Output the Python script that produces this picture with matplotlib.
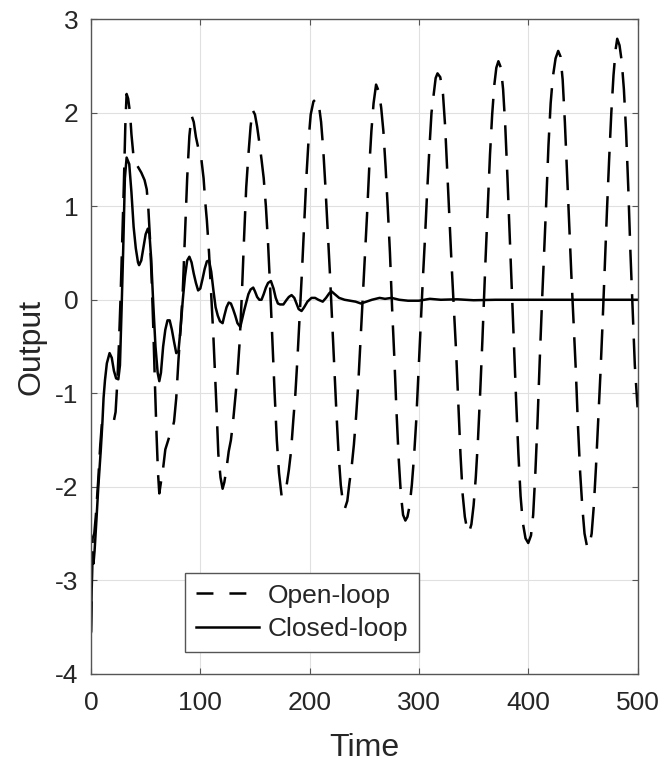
import matplotlib
matplotlib.use("Agg")
import matplotlib.pyplot as plt
from matplotlib.lines import Line2D

plt.rcParams['font.family'] = ['Liberation Sans', 'DejaVu Sans']
plt.rcParams['axes.unicode_minus'] = False
plt.rcParams['lines.scale_dashes'] = False

# ---------------- data ----------------
open_loop_points = [
    (0, -3.55), (1.5, -2.55), (3, -2.5), (4.5, -2.3), (6.5, -1.95), (8.5, -1.55), (10, -1.32),
    (14, -1.3), (18, -1.3), (21, -1.29), (22.5, -1.2), (24, -0.9), (25.5, -0.5), (27, 0.0),
    (28.5, 0.6), (30, 1.2), (31.5, 1.9), (32.6, 2.2), (34, 2.15), (35.7, 2.0), (37, 1.77),
    (39, 1.52), (41, 1.46), (43, 1.42), (46, 1.36), (49, 1.28), (51, 1.18), (52.5, 0.97),
    (54, 0.65), (55.5, 0.22), (57, -0.3), (58.5, -0.9), (60, -1.45), (61.3, -1.85), (62.5, -2.07),
    (64, -1.95), (66, -1.8), (68, -1.6), (72, -1.45), (74.5, -1.38), (76, -1.3), (78, -1.05),
    (80, -0.65), (82, -0.3), (84, 0.1), (86, 0.7), (88, 1.3), (90, 1.75), (92, 1.97),
    (94, 1.9), (96, 1.74), (98, 1.63), (101, 1.5), (103, 1.3), (104.5, 1.05), (106, 0.85),
    (108, 0.5), (110, 0.05), (112, -0.4), (113.5, -0.8), (115, -1.2), (116.5, -1.65),
    (118.5, -1.9), (120.4, -2.02), (122, -1.95), (124, -1.8), (126, -1.62), (128, -1.5),
    (130, -1.3), (132, -1.05), (134, -0.8), (136, -0.45), (138, 0.05), (140, 0.65), (142, 1.2),
    (144, 1.55), (146, 1.85), (147.8, 2.03),
    (150, 1.98), (152, 1.85), (154, 1.68), (156, 1.5), (158, 1.3), (160, 1.0), (162, 0.6),
    (164, 0.1), (166, -0.45), (168, -1.0), (170, -1.5), (172, -1.85), (174.4, -2.1),
    (176.5, -2.07), (179, -1.98), (181, -1.82), (183, -1.62), (185, -1.3), (187, -1.0),
    (189, -0.6), (191, -0.15), (193, 0.3), (195, 0.8), (197, 1.3), (199, 1.7), (201, 1.98),
    (203.5, 2.12), (206.3, 2.15),
    (208.5, 2.08), (210.5, 1.9), (212.5, 1.6), (214.5, 1.2), (216.5, 0.75), (218.5, 0.3),
    (220.5, -0.2), (222.5, -0.7), (224.5, -1.2), (226.5, -1.65), (228.5, -1.98), (230.5, -2.17),
    (232.3, -2.23),
    (234.5, -2.15), (236.5, -1.95), (238.5, -1.78), (240.5, -1.55), (242.5, -1.25),
    (244.5, -0.9), (246.5, -0.45), (248.5, 0.0), (250.5, 0.45), (252.5, 0.9), (254.5, 1.4),
    (256.5, 1.8), (258.5, 2.1), (260.8, 2.3),
    (263.5, 2.22), (265.5, 2.05), (267.5, 1.8), (269.5, 1.42), (271.5, 0.98), (273.5, 0.5),
    (275.5, -0.1), (277.5, -0.62), (279.5, -1.2), (281.5, -1.7), (283.5, -2.08), (285.5, -2.3),
    (287.6, -2.36),
    (289.5, -2.32), (291.5, -2.2), (293.5, -1.98), (295.5, -1.68), (297.5, -1.3), (299.5, -0.8),
    (301.5, -0.3), (303.5, 0.2), (305.5, 0.65), (307.5, 1.15), (309.5, 1.6), (311.5, 2.0),
    (313.5, 2.2), (315.3, 2.37), (317, 2.42),
    (319.5, 2.38), (322, 2.2), (324, 1.85), (326, 1.35), (328, 0.85), (330, 0.35), (332, -0.1),
    (334, -0.55), (336, -1.1), (338, -1.65), (340, -2.08), (342, -2.32), (344, -2.45),
    (345.8, -2.49),
    (348, -2.4), (350, -2.2), (352, -1.9), (354, -1.5), (356, -1.0), (358, -0.45), (359.5, 0.0),
    (361, 0.45), (363, 1.0), (365, 1.55), (367, 1.98), (369, 2.3), (370.8, 2.48), (372.7, 2.55),
    (375, 2.48), (377, 2.25), (379, 1.85), (381, 1.3), (383, 0.7), (385, 0.1), (387, -0.5),
    (389, -1.1), (391, -1.65), (393, -2.1), (395, -2.38), (397.5, -2.55), (400, -2.6),
    (402.5, -2.52), (404.5, -2.3), (406.5, -1.85), (408.5, -1.3), (410.5, -0.65),
    (412.5, -0.05), (414.5, 0.5), (416.5, 1.05), (418.5, 1.65), (420.5, 2.1), (422.5, 2.38),
    (425, 2.58), (427.4, 2.66),
    (429.5, 2.6), (431.5, 2.35), (433.5, 1.9), (435.5, 1.35), (437.5, 0.8), (439.5, 0.25),
    (441.5, -0.25), (443.5, -0.75), (445.5, -1.35), (447.5, -1.85), (449.5, -2.22),
    (451.5, -2.5), (454, -2.65),
    (456, -2.62), (458, -2.5), (460, -2.2), (462, -1.78), (464, -1.3), (466, -0.8),
    (468, -0.25), (470, 0.35), (472, 0.95), (474, 1.5), (476, 2.0), (478, 2.4), (480, 2.68),
    (481.4, 2.79),
    (483.5, 2.72), (485.5, 2.55), (487.5, 2.25), (489.5, 1.8), (491.5, 1.2), (493.5, 0.5),
    (495.5, -0.1), (497.5, -0.7), (500, -1.15),
]

closed_loop_points = [
    (0, -3.55), (1.2, -2.7), (2.3, -2.82), (3.3, -2.68), (5, -2.35), (6.7, -2.0), (9, -1.6),
    (10.5, -1.3), (11.5, -1.05), (12.8, -0.86), (14.5, -0.68), (17, -0.57), (19, -0.62),
    (21, -0.76), (23, -0.84), (25, -0.85), (26.5, -0.7), (28, -0.1), (29.5, 0.55), (31, 1.3),
    (32.6, 1.52), (35, 1.45), (37, 1.15), (39, 0.78), (41, 0.55), (43, 0.4), (44, 0.37),
    (46, 0.42), (48, 0.56), (50, 0.7), (52, 0.76), (53.5, 0.7), (55, 0.45), (57, -0.05),
    (59, -0.5), (61, -0.78), (62.5, -0.87), (64, -0.78), (66, -0.5), (68, -0.32), (70, -0.22),
    (72, -0.22), (74, -0.32), (76, -0.45), (78, -0.57), (80, -0.55), (82, -0.3), (84, 0.0),
    (86, 0.25), (88, 0.42), (90, 0.46), (92, 0.4), (94, 0.28), (96, 0.18), (98, 0.1),
    (100, 0.12), (102, 0.22), (104, 0.33), (106, 0.41), (108, 0.42), (110, 0.3), (112, 0.1),
    (114, -0.08), (116, -0.17), (118, -0.23), (120.4, -0.25), (122, -0.17), (124, -0.08),
    (126, -0.03), (128, -0.04), (130, -0.1), (132, -0.17), (134, -0.25), (136.6, -0.29),
    (138, -0.22), (140, -0.12), (142, -0.03), (144, 0.06), (146, 0.11), (148.4, 0.13),
    (150, 0.09), (152, 0.03), (154, 0.0), (156, 0.0), (158, 0.06), (160, 0.13), (162, 0.18),
    (164.6, 0.2), (167, 0.12), (169, 0.02), (171, -0.04), (173, -0.05), (176, -0.05),
    (179, 0.0), (181, 0.03), (183.5, 0.05), (186, 0.02), (188, -0.04), (190, -0.1),
    (192.6, -0.12), (195, -0.08), (198, -0.02), (201.7, 0.02), (205, 0.02), (208, 0.0),
    (212, -0.02), (215, 0.02), (218, 0.07), (220, 0.09), (223, 0.06), (227, 0.02), (232, 0.0),
    (237, -0.01), (242, -0.02), (247, -0.04), (252, -0.02), (257, 0.0), (264, 0.02),
    (269, 0.01), (275, 0.02), (282, 0.0), (290, -0.01), (300, -0.01), (310, 0.01), (320, 0.0),
    (335, 0.005), (350, -0.005), (370, 0.0), (400, 0.0), (450, 0.0), (500, 0.0),
]

series_labels = ["Open-loop", "Closed-loop"]
x_ticks = [0, 100, 200, 300, 400, 500]
y_ticks = [-4, -3, -2, -1, 0, 1, 2, 3]
x_label = "Time"
y_label = "Output"

t_open = [p[0] for p in open_loop_points]
y_open = [p[1] for p in open_loop_points]
t_closed = [p[0] for p in closed_loop_points]
y_closed = [p[1] for p in closed_loop_points]

# ---------------- figure ----------------
fig = plt.figure(figsize=(6.69, 7.65), dpi=100)
ax = fig.add_axes([0.136, 0.119, 0.817, 0.856])

dash_style = (22, 10)
ax.plot(t_open, y_open, color='black', lw=1.8, dashes=dash_style, solid_joinstyle='round')
ax.plot(t_closed, y_closed, color='black', lw=1.8, solid_joinstyle='round')

ax.set_xlim(0, 500)
ax.set_ylim(-4, 3)
ax.set_xticks(x_ticks)
ax.set_yticks(y_ticks)
ax.set_xticklabels([str(v) for v in x_ticks])
ax.set_yticklabels([str(v) for v in y_ticks])

ax.grid(True, color='#e0e0e0', lw=0.8)
ax.set_axisbelow(True)
for s in ax.spines.values():
    s.set_color('#555555')
    s.set_linewidth(1.0)

ax.tick_params(axis='both', direction='in', length=4.5, width=0.8, colors='#555555',
               labelcolor='#262626', labelsize=19, top=True, right=True)
ax.tick_params(axis='x', pad=12)
ax.tick_params(axis='y', pad=9)

ax.set_xlabel(x_label, fontsize=23, color='#262626', labelpad=13)
ax.set_ylabel(y_label, fontsize=23, color='#262626', labelpad=6)

h_open = Line2D([], [], color='black', lw=1.8, dashes=(12.2, 11.5))
h_closed = Line2D([], [], color='black', lw=1.8)
leg = ax.legend([h_open, h_closed], series_labels, loc='lower left',
                bbox_to_anchor=(0.172, 0.0336), borderaxespad=0, fontsize=19,
                handlelength=2.4, handletextpad=0.3, borderpad=0.42, labelspacing=0.35,
                frameon=True, fancybox=False, framealpha=1)
leg.get_frame().set_edgecolor('#555555')
leg.get_frame().set_linewidth(1.0)
for txt in leg.get_texts():
    txt.set_color('#262626')

fig.savefig("out.png", dpi=100)
